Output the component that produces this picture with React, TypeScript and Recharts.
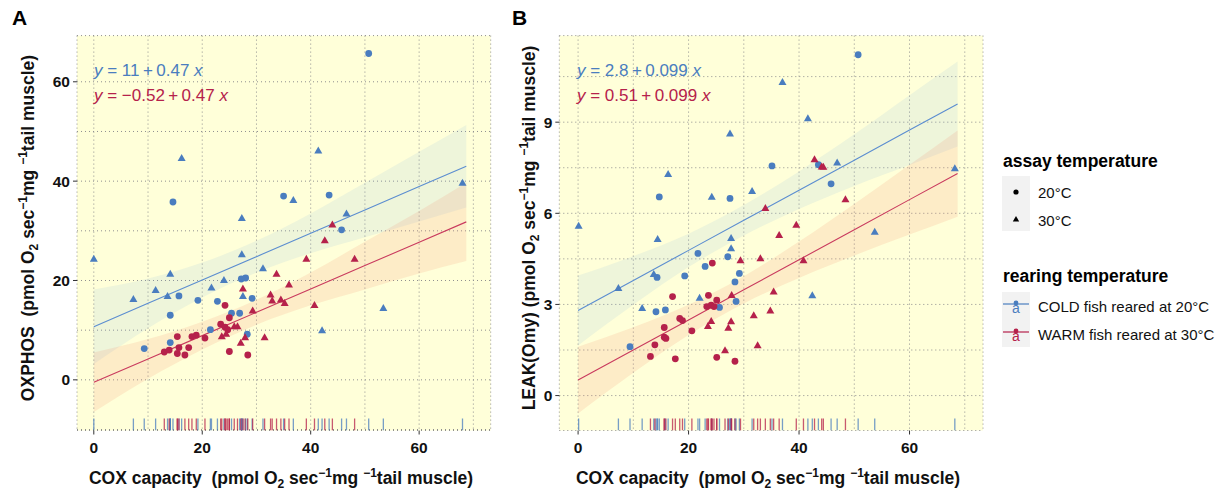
import React from "react";
import { ComposedChart, XAxis, YAxis, CartesianGrid, Scatter, Line, Area } from "recharts";

// ---------- DATA ----------
// Panel A: OXPHOS vs COX capacity  [x, y]
const coldCircA: number[][] = [[50.7,65.7],[14.6,35.8],[35.0,37.0],[43.4,37.2],[45.7,30.2],[27.2,20.3],[28.0,20.5],[15.7,16.9],[19.2,16.0],[22.8,15.8],[29.2,16.4],[14.1,13.0],[25.4,13.4],[26.9,13.4],[21.5,10.1],[28.3,9.2],[14.1,7.5],[9.3,6.3]];
const coldTriA: number[][] = [[16.2,44.6],[41.4,46.1],[68.0,39.6],[36.8,36.1],[27.3,32.5],[46.6,33.4],[0,24.3],[27.3,25.2],[31.2,22.4],[14.1,21.3],[24.0,20.0],[11.4,18.0],[21.7,18.5],[7.3,16.2],[13.6,16.8],[27.5,16.8],[53.4,14.4],[42.1,9.9]];
const warmCircA: number[][] = [[24.2,15.0],[25.0,12.5],[23.4,11.2],[24.2,10.6],[24.7,10.1],[18.9,9.0],[15.4,8.7],[18.1,8.7],[20.5,8.4],[15.7,6.5],[17.5,6.5],[13.0,5.6],[13.9,6.0],[15.4,5.3],[16.8,5.0],[25.0,5.7],[28.4,5.0]];
const warmTriA: number[][] = [[44.0,31.2],[42.6,28.0],[39.2,24.3],[48.1,24.3],[33.7,21.3],[36.0,19.1],[27.5,18.3],[32.6,17.1],[32.9,15.9],[34.5,16.1],[35.2,15.4],[40.7,15.0],[29.3,13.9],[25.9,10.7],[26.5,10.7],[23.6,8.7],[24.4,9.2],[27.1,7.4],[27.9,8.5],[31.5,8.5]];

// Panel B: LEAK(Omy) vs COX capacity  [x, y]
const coldCircB: number[][] = [[50.7,11.22],[35.1,7.56],[43.5,7.60],[45.8,6.97],[14.7,6.54],[27.5,6.49],[21.7,4.68],[27.1,4.57],[23.0,4.25],[29.2,4.02],[28.4,3.74],[14.3,3.89],[19.3,3.94],[28.6,3.10],[25.6,2.90],[14.1,2.76],[15.8,2.82],[9.4,1.61]];
const coldTriB: number[][] = [[37.0,10.31],[41.6,9.12],[27.5,8.61],[16.3,7.28],[46.9,7.66],[68.2,7.47],[24.2,6.53],[31.5,6.72],[0.1,5.58],[53.7,5.38],[14.4,5.14],[27.7,5.17],[27.7,4.84],[7.3,3.53],[13.7,3.99],[22.0,3.21],[11.6,2.87],[42.4,3.29]];
const warmCircB: number[][] = [[24.3,4.36],[17.1,3.26],[23.6,3.30],[25.1,3.14],[23.3,2.93],[24.1,2.98],[24.6,2.93],[18.4,2.54],[18.9,2.47],[15.6,2.24],[20.6,2.13],[15.6,1.92],[15.9,1.88],[13.9,1.67],[25.1,1.26],[13.1,1.29],[17.6,1.21],[28.4,1.13]];
const warmTriB: number[][] = [[42.8,7.77],[44.1,7.53],[44.4,7.52],[33.9,6.16],[39.5,5.61],[48.4,6.45],[36.4,5.27],[29.4,4.44],[33.0,4.51],[40.8,4.44],[27.8,3.30],[24.1,2.44],[23.5,2.28],[27.7,2.43],[27.2,2.22],[31.8,2.63],[26.6,1.48],[32.5,1.64],[35.4,3.41],[34.8,2.79]];

// fitted lines and confidence ribbons
const fitX = [0, 10, 20, 30, 40, 50, 60, 68.7];
const coldFitA = [10.7, 15.4, 20.1, 24.8, 29.5, 34.2, 38.9, 43.0];
const coldLoA = [3.2, 10.4, 16.6, 21.6, 25.5, 28.7, 31.9, 34.7];
const coldHiA = [18.2, 20.4, 23.6, 28.0, 33.5, 39.7, 45.9, 51.3];
const warmFitA = [-0.5, 4.2, 8.9, 13.6, 18.3, 23.0, 27.7, 31.8];
const warmLoA = [-6.5, 0.2, 6.1, 11.1, 15.0, 18.2, 21.4, 23.9];
const warmHiA = [5.5, 8.2, 11.7, 16.1, 21.6, 27.8, 34.0, 39.7];
const coldFitB = [2.8, 3.79, 4.78, 5.77, 6.76, 7.75, 8.74, 9.6];
const coldLoB = [1.65, 2.99, 4.23, 5.27, 6.14, 6.9, 7.59, 8.2];
const coldHiB = [3.95, 4.59, 5.33, 6.27, 7.38, 8.6, 9.89, 11.0];
const warmFitB = [0.51, 1.5, 2.49, 3.48, 4.47, 5.46, 6.45, 7.31];
const warmLoB = [-0.59, 0.75, 1.99, 3.03, 3.87, 4.61, 5.3, 5.89];
const warmHiB = [1.61, 2.25, 2.99, 3.93, 5.07, 6.31, 7.6, 8.73];

// axes
const xTicks = [0, 10, 20, 30, 40, 50, 60, 70];
const xMajor = [0, 20, 40, 60];
const yTicksA = [-10, 0, 10, 20, 30, 40, 50, 60];
const yMajorA = [0, 20, 40, 60];
const yTicksB = [0, 1.5, 3, 4.5, 6, 7.5, 9, 10.5];
const yMajorB = [0, 3, 6, 9];
const xDomainA = [-3.1, 73.2];
const yDomainA = [-10.2, 69.3];
const xDomainB = [-3.4, 73.3];
const yDomainB = [-1.15, 11.85];

const eqColdA = "11\u2009+\u20090.47";
const eqWarmA = "\u22120.52\u2009+\u20090.47";
const eqColdB = "2.8\u2009+\u20090.099";
const eqWarmB = "0.51\u2009+\u20090.099";

// ---------- STYLE ----------
const BLUE = "#4A7DBF";
const RED = "#B5214B";
const BG = "#FFFFD9";
const FONT = "'Liberation Sans', Arial, Helvetica, sans-serif";
const PLOT_TOP = 35.6;
const PLOT_BOTTOM = 430.5;
const CH = 494;

const toPts = (arr: number[][]) => arr.map(([x, y]) => ({ x, y }));

const CircleShape = (color: string) => (p: any) =>
  p.cx == null ? <g /> : <circle cx={p.cx} cy={p.cy} r={3.4} fill={color} />;
const TriShape = (color: string) => (p: any) =>
  p.cx == null ? <g /> : (
    <polygon
      points={`${p.cx},${p.cy - 4.4} ${p.cx - 4.0},${p.cy + 2.6} ${p.cx + 4.0},${p.cy + 2.6}`}
      fill={color}
    />
  );
const RugShape = (color: string) => (p: any) =>
  p.cx == null ? <g /> : (
    <line x1={p.cx} x2={p.cx} y1={PLOT_BOTTOM - 12} y2={PLOT_BOTTOM} stroke={color} strokeWidth={1.3} strokeOpacity={0.75} />
  );

const makeXTick = (majors: number[]) => (props: any) => {
  const { x, payload } = props;
  if (!majors.includes(payload.value)) return <g />;
  return (
    <g>
      <line x1={x} x2={x} y1={PLOT_BOTTOM} y2={PLOT_BOTTOM + 4} stroke="#333" strokeWidth={1} />
      <text x={x} y={PLOT_BOTTOM + 17} textAnchor="middle" dominantBaseline="central"
        fontFamily={FONT} fontWeight="bold" fontSize={15.5} fill="#111">{payload.value}</text>
    </g>
  );
};
const makeYTick = (majors: number[], plotLeft: number) => (props: any) => {
  const { y, payload } = props;
  if (!majors.includes(payload.value)) return <g />;
  return (
    <g>
      <line x1={plotLeft - 4} x2={plotLeft} y1={y} y2={y} stroke="#333" strokeWidth={1} />
      <text x={plotLeft - 7} y={y} textAnchor="end" dominantBaseline="central"
        fontFamily={FONT} fontWeight="bold" fontSize={15.5} fill="#111">{payload.value}</text>
    </g>
  );
};

type PanelProps = {
  left: number; width: number; yAxisWidth: number; marginRight: number;
  xDomain: number[]; yDomain: number[]; yTicks: number[]; yMajor: number[];
  coldCirc: number[][]; coldTri: number[][]; warmCirc: number[][]; warmTri: number[][];
  coldFit: number[]; coldLo: number[]; coldHi: number[];
  warmFit: number[]; warmLo: number[]; warmHi: number[];
};

function Panel(pp: PanelProps) {
  const fitData = fitX.map((x, i) => ({
    x,
    coldFit: pp.coldFit[i], coldBand: [pp.coldLo[i], pp.coldHi[i]],
    warmFit: pp.warmFit[i], warmBand: [pp.warmLo[i], pp.warmHi[i]],
  }));
  const ymin = pp.yDomain[0];
  const rugCold = [...pp.coldCirc, ...pp.coldTri].map(([x]) => ({ x, y: ymin }));
  const rugWarm = [...pp.warmCirc, ...pp.warmTri].map(([x]) => ({ x, y: ymin }));
  return (
    <div style={{ position: "absolute", left: pp.left, top: 0, width: pp.width, height: CH }}>
      <ComposedChart width={pp.width} height={CH} data={fitData}
        margin={{ top: PLOT_TOP, right: pp.marginRight, bottom: 0, left: 0 }}>
        <CartesianGrid stroke="#8f8f8f" strokeDasharray="1 3" fill={BG} fillOpacity={1} />
        <XAxis type="number" dataKey="x" domain={pp.xDomain} allowDataOverflow ticks={xTicks}
          interval={0} height={CH - PLOT_BOTTOM} axisLine={false} tickLine={false}
          tick={makeXTick(xMajor)} />
        <YAxis type="number" dataKey="y" domain={pp.yDomain} allowDataOverflow ticks={pp.yTicks}
          interval={0} width={pp.yAxisWidth} axisLine={false} tickLine={false}
          tick={makeYTick(pp.yMajor, pp.yAxisWidth)} />
        <Area type="monotone" dataKey="coldBand" stroke="none" fill="#7FB0E0" fillOpacity={0.13}
          isAnimationActive={false} dot={false} activeDot={false} />
        <Area type="monotone" dataKey="warmBand" stroke="none" fill="#F08A6A" fillOpacity={0.16}
          isAnimationActive={false} dot={false} activeDot={false} />
        <Line type="linear" dataKey="coldFit" stroke="#5B8DD0" strokeWidth={1.1} dot={false}
          activeDot={false} isAnimationActive={false} />
        <Line type="linear" dataKey="warmFit" stroke="#C93A5E" strokeWidth={1.1} dot={false}
          activeDot={false} isAnimationActive={false} />
        <Scatter data={toPts(pp.coldCirc)} shape={CircleShape(BLUE)} isAnimationActive={false} />
        <Scatter data={toPts(pp.coldTri)} shape={TriShape(BLUE)} isAnimationActive={false} />
        <Scatter data={toPts(pp.warmCirc)} shape={CircleShape(RED)} isAnimationActive={false} />
        <Scatter data={toPts(pp.warmTri)} shape={TriShape(RED)} isAnimationActive={false} />
        <Scatter data={rugCold} shape={RugShape(BLUE)} isAnimationActive={false} />
        <Scatter data={rugWarm} shape={RugShape(RED)} isAnimationActive={false} />
      </ComposedChart>
    </div>
  );
}

const Units = () => (
  <>
    <tspan>(pmol O</tspan>
    <tspan fontSize={12} dy={4}>2</tspan>
    <tspan dy={-4}> sec</tspan>
    <tspan fontSize={12} dy={-7}>{"\u22121"}</tspan>
    <tspan dy={7}>mg </tspan>
    <tspan fontSize={12} dy={-7}>{"\u22121"}</tspan>
    <tspan dy={7}>tail muscle)</tspan>
  </>
);

const Eq = ({ x, y, color, body }: { x: number; y: number; color: string; body: string }) => (
  <text x={x} y={y} fill={color} fontFamily={FONT} fontSize={17} style={{ whiteSpace: "pre" }}>
    <tspan fontStyle="italic">y</tspan>
    <tspan>{" = " + body + " "}</tspan>
    <tspan fontStyle="italic">x</tspan>
  </text>
);

export default function App() {
  return (
    <div style={{ position: "absolute", left: 0, top: 0, width: 1217, height: 494, background: "#fff", overflow: "hidden" }}>
      <Panel left={0} width={500} yAxisWidth={77} marginRight={9.3}
        xDomain={xDomainA} yDomain={yDomainA} yTicks={yTicksA} yMajor={yMajorA}
        coldCirc={coldCircA} coldTri={coldTriA} warmCirc={warmCircA} warmTri={warmTriA}
        coldFit={coldFitA} coldLo={coldLoA} coldHi={coldHiA}
        warmFit={warmFitA} warmLo={warmLoA} warmHi={warmHiA} />
      <Panel left={500} width={500} yAxisWidth={59.3} marginRight={17}
        xDomain={xDomainB} yDomain={yDomainB} yTicks={yTicksB} yMajor={yMajorB}
        coldCirc={coldCircB} coldTri={coldTriB} warmCirc={warmCircB} warmTri={warmTriB}
        coldFit={coldFitB} coldLo={coldLoB} coldHi={coldHiB}
        warmFit={warmFitB} warmLo={warmLoB} warmHi={warmHiB} />
      <svg width={1217} height={494} style={{ position: "absolute", left: 0, top: 0, pointerEvents: "none" }}>
        {/* panel tags */}
        <text x={12} y={25} fontFamily={FONT} fontWeight="bold" fontSize={21} fill="#000">A</text>
        <text x={512} y={25} fontFamily={FONT} fontWeight="bold" fontSize={21} fill="#000">B</text>
        {/* equations */}
        <Eq x={94} y={76} color={BLUE} body={eqColdA} />
        <Eq x={94} y={101} color={RED} body={eqWarmA} />
        <Eq x={577} y={76} color={BLUE} body={eqColdB} />
        <Eq x={577} y={101} color={RED} body={eqWarmB} />
        {/* x axis titles */}
        <text x={281} y={484} textAnchor="middle" fontFamily={FONT} fontWeight="bold" fontSize={17.5}
          fill="#111" style={{ whiteSpace: "pre" }}>
          <tspan>{"COX capacity  "}</tspan><Units />
        </text>
        <text x={768} y={484} textAnchor="middle" fontFamily={FONT} fontWeight="bold" fontSize={17.5}
          fill="#111" style={{ whiteSpace: "pre" }}>
          <tspan>{"COX capacity  "}</tspan><Units />
        </text>
        {/* y axis titles */}
        <text x={34} y={228} transform="rotate(-90 34 228)" textAnchor="middle" fontFamily={FONT}
          fontWeight="bold" fontSize={17.5} fill="#111" style={{ whiteSpace: "pre" }}>
          <tspan>{"OXPHOS  "}</tspan><Units />
        </text>
        <text x={535} y={228} transform="rotate(-90 535 228)" textAnchor="middle" fontFamily={FONT}
          fontWeight="bold" fontSize={17.5} fill="#111" style={{ whiteSpace: "pre" }}>
          <tspan>{"LEAK(Omy) "}</tspan><Units />
        </text>
        {/* legend: assay temperature */}
        <text x={1003} y={167} fontFamily={FONT} fontWeight="bold" fontSize={17.5} fill="#000">assay temperature</text>
        <rect x={1002} y={176} width={28} height={55} fill="#F2F2F2" />
        <circle cx={1016} cy={192} r={2.6} fill="#000" />
        <polygon points="1016,216 1012.8,221.5 1019.2,221.5" fill="#000" />
        <text x={1038} y={192} dominantBaseline="central" fontFamily={FONT} fontSize={15} fill="#111">20°C</text>
        <text x={1038} y={220} dominantBaseline="central" fontFamily={FONT} fontSize={15} fill="#111">30°C</text>
        {/* legend: rearing temperature */}
        <text x={1003} y={282} fontFamily={FONT} fontWeight="bold" fontSize={17.5} fill="#000">rearing temperature</text>
        <rect x={1002} y={292} width={28} height={55} fill="#F2F2F2" />
        <line x1={1003} x2={1029} y1={304} y2={304} stroke={BLUE} strokeWidth={1.2} />
        <circle cx={1016} cy={303} r={2.4} fill={BLUE} />
        <text x={1016} y={313} textAnchor="middle" fontFamily={FONT} fontSize={14} fill={BLUE}>a</text>
        <line x1={1003} x2={1029} y1={332} y2={332} stroke={RED} strokeWidth={1.2} />
        <circle cx={1016} cy={331} r={2.4} fill={RED} />
        <text x={1016} y={341} textAnchor="middle" fontFamily={FONT} fontSize={14} fill={RED}>a</text>
        <text x={1038} y={306} dominantBaseline="central" fontFamily={FONT} fontSize={15} fill="#111">COLD fish reared at 20°C</text>
        <text x={1038} y={334} dominantBaseline="central" fontFamily={FONT} fontSize={15} fill="#111">WARM fish reared at 30°C</text>
      </svg>
    </div>
  );
}
